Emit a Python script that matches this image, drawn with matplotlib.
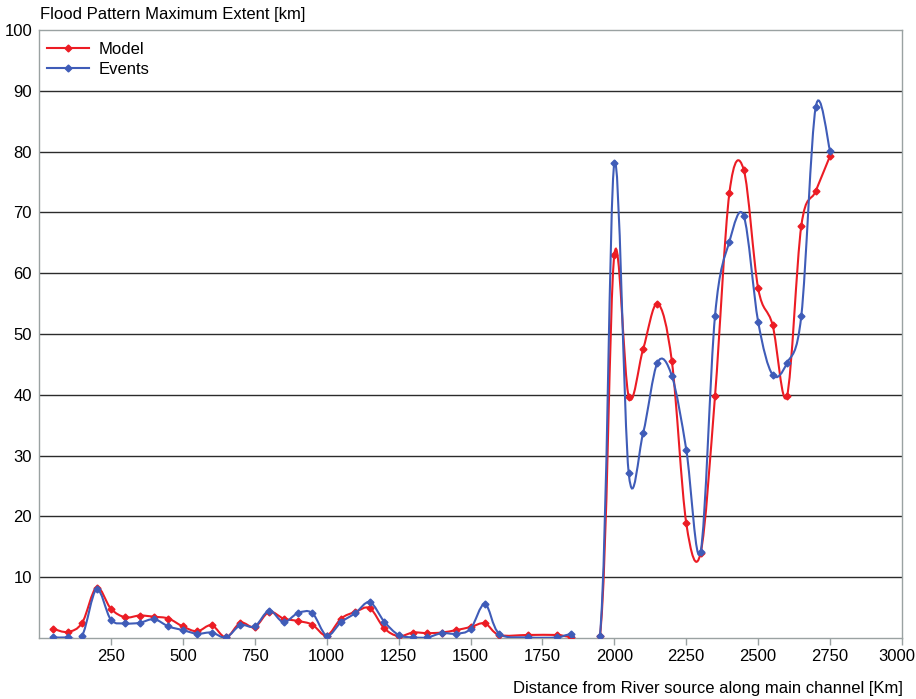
import numpy as np
import matplotlib.pyplot as plt
from matplotlib.path import Path
from matplotlib.patches import PathPatch
from matplotlib.lines import Line2D
from matplotlib.transforms import ScaledTranslation

plt.rcParams['font.family'] = ['Liberation Sans', 'DejaVu Sans']

# distance from the river source (km) and maximum flood extent (km)
distance_km = [50, 100, 150, 200, 250, 300, 350, 400, 450, 500, 550, 600, 650,
               700, 750, 800, 850, 900, 950, 1000, 1050, 1100, 1150, 1200, 1250,
               1300, 1350, 1400, 1450, 1500, 1550, 1600, 1700, 1800, 1850, 1950,
               2000, 2050, 2100, 2150, 2200, 2250, 2300, 2350, 2400, 2450, 2500,
               2550, 2600, 2650, 2700, 2750]

model_extent = [1.5, 1.0, 2.5, 8.3, 4.8, 3.4, 3.7, 3.5, 3.2, 1.9, 1.1, 2.1, 0.1,
                2.5, 1.8, 4.3, 3.2, 2.8, 2.2, 0.4, 3.2, 4.3, 4.9, 1.6, 0.3,
                0.9, 0.8, 0.9, 1.3, 1.8, 2.4, 0.5, 0.5, 0.5, 0.2, 0.3,
                63.0, 39.7, 47.5, 55.0, 45.5, 18.9, 14.0, 39.8, 73.2, 77.0, 57.5,
                51.5, 39.8, 67.8, 73.5, 79.3]

events_extent = [0.1, 0.1, 0.4, 8.0, 3.0, 2.4, 2.5, 3.1, 1.9, 1.3, 0.7, 0.9, 0.1,
                 2.1, 1.9, 4.5, 2.6, 4.1, 4.1, 0.4, 2.6, 4.1, 5.9, 2.7, 0.5,
                 0.1, 0.1, 0.8, 0.7, 1.5, 5.6, 0.7, 0.1, 0.1, 0.6, 0.4,
                 78.1, 27.1, 33.7, 45.3, 43.1, 31.0, 14.2, 53.0, 65.2, 69.4, 52.0,
                 43.3, 45.2, 53.0, 87.3, 80.1]

red = '#ec1c24'
blue = '#3f5cb8'
fs = 12


def smooth_path(x, y):
    # cubic bezier segments through every point (catmull-rom tangents)
    pts = np.column_stack([x, y]).astype(float)
    n = len(pts)
    verts = [pts[0]]
    codes = [Path.MOVETO]
    for i in range(n - 1):
        p0 = pts[i - 1] if i > 0 else pts[i]
        p1 = pts[i]
        p2 = pts[i + 1]
        p3 = pts[i + 2] if i + 2 < n else pts[i + 1]
        verts += [p1 + (p2 - p0) / 6, p2 - (p3 - p1) / 6, p2]
        codes += [Path.CURVE4] * 3
    return Path(verts, codes)


fig = plt.figure(figsize=(9.16, 6.99), dpi=100)
ax = fig.add_axes([39 / 916, 61 / 699, 863 / 916, 608 / 699])

for yy in range(10, 100, 10):
    ax.axhline(yy, color='#2b2b2b', lw=1.0, zorder=1)

for vals, col, z in [(model_extent, red, 3), (events_extent, blue, 4)]:
    ax.add_patch(PathPatch(smooth_path(distance_km, vals), facecolor='none',
                           edgecolor=col, lw=1.5, zorder=z))
    ax.plot(distance_km, vals, linestyle='none', marker='D', markersize=3.5,
            color=col, zorder=z)

ax.set_xlim(0, 3000)
ax.set_ylim(0, 100)
ax.set_xticks(range(250, 3001, 250))
ax.set_yticks(range(10, 101, 10))
ax.tick_params(axis='x', direction='out', length=5, width=1, color='#9aa2a2',
               labelsize=fs, pad=3)
ax.tick_params(axis='y', length=0, labelsize=fs, pad=5)
for side in ['left', 'right', 'top', 'bottom']:
    ax.spines[side].set_color('#9aa2a2')
    ax.spines[side].set_linewidth(1.0)

# keep the last tick label inside the figure
last = ax.get_xticklabels()[-1]
last.set_transform(last.get_transform() +
                   ScaledTranslation(-5 / 100, 0, fig.dpi_scale_trans))

handles = [Line2D([], [], color=red, lw=1.5, marker='D', markersize=3.5),
           Line2D([], [], color=blue, lw=1.5, marker='D', markersize=3.5)]
ax.legend(handles, ['Model', 'Events'], loc='upper left', frameon=False,
          fontsize=fs, borderpad=0, borderaxespad=0, handlelength=2.5,
          handletextpad=0.6, labelspacing=0.3,
          bbox_to_anchor=(8 / 863, 1 - 12 / 608))

fig.text(40 / 916, 1 - 14 / 699, 'Flood Pattern Maximum Extent [km]',
         ha='left', va='center', fontsize=fs)
fig.text(903 / 916, 1 - 688 / 699,
         'Distance from River source along main channel [Km]',
         ha='right', va='center', fontsize=fs)

fig.savefig('out.png', dpi=100)
